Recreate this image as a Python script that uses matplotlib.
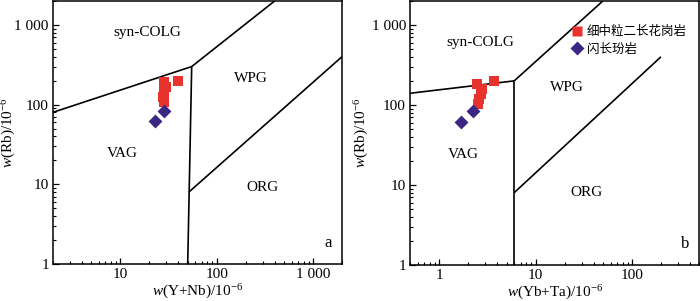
import matplotlib
matplotlib.use("Agg")
import matplotlib.pyplot as plt
from matplotlib.lines import Line2D
from matplotlib.ticker import FixedLocator, FixedFormatter, LogLocator, NullFormatter

plt.rcParams['font.family'] = ['Liberation Serif', 'Noto Sans CJK SC']
plt.rcParams['mathtext.fontset'] = 'custom'
plt.rcParams['mathtext.rm'] = 'Liberation Serif'
plt.rcParams['mathtext.it'] = 'Liberation Serif:italic'

# panel a: Rb vs Y+Nb
granite_ynb = [28.5, 29.5, 28.5, 28.0, 28.5, 39.5]
granite_rb_a = [190, 164, 142, 123, 109, 196]
diorite_ynb = [28.2, 22.8]
diorite_rb_a = [83, 62]

# panel b: Rb vs Yb+Ta
granite_ybta = [2.46, 2.8, 2.7, 2.6, 2.55, 3.7]
granite_rb_b = [183, 158, 137, 119, 103, 199]
diorite_ybta = [2.22, 1.69]
diorite_rb_b = [85, 62]

# field boundaries (Pearce et al. 1984)
bounds_a = [
    ([2, 55], [80, 300]),
    ([55, 400], [300, 2000]),
    ([50, 55], [1, 300]),
    ([51.5, 2000], [8, 400]),
]
bounds_b = [
    ([0.5, 6], [140, 200]),
    ([6, 50], [200, 2000]),
    ([6, 6], [1, 200]),
    ([6, 200], [8, 400]),
]
fields_a = [("syn-COLG", 19, 800), ("WPG", 224, 215), ("VAG", 10.5, 24), ("ORG", 300, 9.2)]
fields_b = [("syn-COLG", 2.65, 600), ("WPG", 21.4, 165), ("VAG", 1.77, 24), ("ORG", 34, 8.0)]

red = '#e8322e'
purple = '#3b2683'

fig = plt.figure(figsize=(7, 3.01), dpi=100)
axA = fig.add_axes([0.0757, 0.123, 0.413, 0.874])
axB = fig.add_axes([0.586, 0.12, 0.413, 0.877])


def setup(ax, xlim, xticks, xlabels, xlabel, panel, ylab_x):
    ax.set_xscale('log')
    ax.set_yscale('log')
    ax.set_xlim(*xlim)
    ax.set_ylim(1, 2000)
    ax.xaxis.set_major_locator(FixedLocator(xticks))
    ax.xaxis.set_major_formatter(FixedFormatter(xlabels))
    ax.xaxis.set_minor_locator(LogLocator(base=10, subs=range(2, 10)))
    ax.xaxis.set_minor_formatter(NullFormatter())
    ax.yaxis.set_major_locator(FixedLocator([1, 10, 100, 1000]))
    ax.yaxis.set_major_formatter(FixedFormatter(['1', '10', '100', '1 000']))
    ax.yaxis.set_minor_locator(LogLocator(base=10, subs=range(2, 10)))
    ax.yaxis.set_minor_formatter(NullFormatter())
    ax.tick_params(which='both', direction='in', labelsize=11, pad=3)
    ax.tick_params(which='major', length=4, width=0.9)
    ax.tick_params(which='minor', length=2.5, width=0.8)
    for s in ax.spines.values():
        s.set_linewidth(1.1)
    ax.set_xlabel(xlabel, fontsize=11, labelpad=1)
    ax.set_ylabel(r'$w$(Rb)/10$^{-6}$', fontsize=11)
    ax.yaxis.set_label_coords(ylab_x, 0.5)
    ax.text(0.95, 0.065, panel, transform=ax.transAxes, fontsize=12, ha='center')


setup(axA, (2, 2000), [10, 100, 1000], ['10', '100', '1 000'], r'$w$(Y+Nb)/10$^{-6}$', 'a', -0.12)
setup(axB, (0.5, 500), [1, 10, 100], ['1', '10', '100'], r'$w$(Yb+Ta)/10$^{-6}$', 'b', -0.135)

for ax, bounds, fields in [(axA, bounds_a, fields_a), (axB, bounds_b, fields_b)]:
    for xs, ys in bounds:
        ax.plot(xs, ys, color='black', lw=1.2, solid_capstyle='butt')
    for name, x, y in fields:
        ax.text(x, y, name, fontsize=11, ha='center', va='center')

axA.scatter(granite_ynb, granite_rb_a, marker='s', s=60, color=red, linewidths=0, zorder=3)
axA.scatter(diorite_ynb, diorite_rb_a, marker='D', s=50, color=purple, linewidths=0, zorder=3)
axB.scatter(granite_ybta, granite_rb_b, marker='s', s=60, color=red, linewidths=0, zorder=3)
axB.scatter(diorite_ybta, diorite_rb_b, marker='D', s=50, color=purple, linewidths=0, zorder=3)

handles = [
    Line2D([], [], ls='none', marker='s', ms=7.5, color=red, mec='none'),
    Line2D([], [], ls='none', marker='D', ms=7, color=purple, mec='none'),
]
axB.legend(handles, ['细中粒二长花岗岩', '闪长玢岩'], loc='upper left',
           bbox_to_anchor=(0.555, 0.905), frameon=False, fontsize=9,
           handletextpad=0.3, handlelength=1.0, borderaxespad=0, borderpad=0,
           labelspacing=0.45)

fig.savefig('out.png', dpi=100)
